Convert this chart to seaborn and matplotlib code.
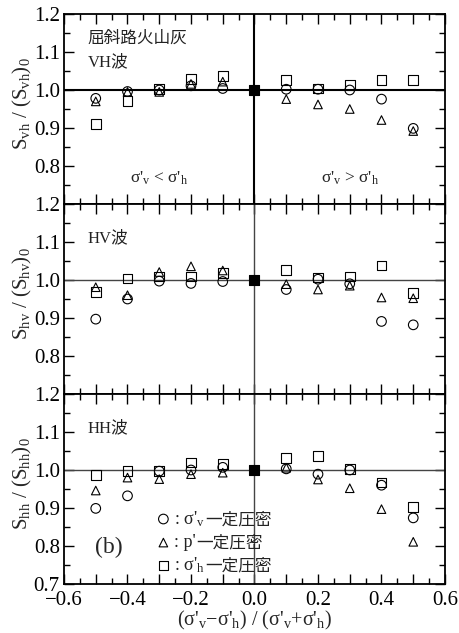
import numpy as np
import pandas as pd
import matplotlib
matplotlib.use("Agg")
import matplotlib.pyplot as plt
import seaborn as sns
from matplotlib.ticker import MultipleLocator, FuncFormatter
from matplotlib.offsetbox import TextArea, HPacker, AnnotationBbox

# stress ratio (σ'v−σ'h)/(σ'v+σ'h)
ratio = [-0.5, -0.4, -0.3, -0.2, -0.1, 0.0, 0.1, 0.2, 0.3, 0.4, 0.5]

# VH wave, normalised shear-wave velocity
vh_sv = [0.978, 0.996, 1.000, 1.011, 1.004, 1.0, 1.002, 1.002, 1.000, 0.976, 0.899]
vh_p  = [0.970, 0.995, 0.995, 1.016, 1.022, 1.0, 0.976, 0.962, 0.950, 0.921, 0.892]
vh_sh = [0.910, 0.971, 1.003, 1.029, 1.037, 1.0, 1.026, 1.004, 1.013, 1.026, 1.026]

# HV wave
hv_sv = [0.897, 0.950, 0.997, 0.991, 0.996, 1.0, 0.975, 1.002, 0.990, 0.891, 0.882]
hv_p  = [0.981, 0.960, 1.021, 1.036, 1.025, 1.0, 0.989, 0.975, 0.985, 0.954, 0.952]
hv_sh = [0.968, 1.004, 1.009, 1.009, 1.019, 1.0, 1.026, 1.007, 1.009, 1.038, 0.965]

# HH wave
hh_sv = [0.899, 0.932, 0.997, 1.000, 1.007, 1.0, 1.003, 0.989, 1.000, 0.960, 0.874]
hh_p  = [0.946, 0.980, 0.976, 0.989, 0.993, 1.0, 1.006, 0.975, 0.952, 0.897, 0.811]
hh_sh = [0.987, 0.998, 0.998, 1.020, 1.016, 1.0, 1.032, 1.037, 1.002, 0.967, 0.903]

panel_names = ["VH波", "HV波", "HH波"]
panel_ylabels = [r"S$_{vh}$ / (S$_{vh}$)$_0$",
                 r"S$_{hv}$ / (S$_{hv}$)$_0$",
                 r"S$_{hh}$ / (S$_{hh}$)$_0$"]
method_markers = ["o", "^", "s"]
marker_sizes = [48, 38, 48]
legend_syms = [r": σ'$_v$", r": p'", r": σ'$_h$"]
legend_tail = "一定圧密"

sns.set_theme(style="ticks")
plt.rcParams["font.family"] = ["Liberation Serif", "Noto Sans CJK JP"]
plt.rcParams["mathtext.fontset"] = "custom"
plt.rcParams["mathtext.rm"] = "Liberation Serif"
plt.rcParams["mathtext.default"] = "regular"
plt.rcParams["axes.linewidth"] = 1.3
plt.rcParams["axes.edgecolor"] = "black"

fig = plt.figure(figsize=(4.6, 6.33), dpi=100)
left, right = 64 / 460, 445 / 460
ph = 190 / 633
bottom0 = 1 - 584 / 633

panels = [
    [vh_sv, vh_p, vh_sh],
    [hv_sv, hv_p, hv_sh],
    [hh_sv, hh_p, hh_sh],
]


def xfmt(v, pos):
    if abs(v) < 1e-9:
        v = 0.0
    if int(round(v * 10)) % 2 == 0:
        return f"{v:.1f}".replace("-", "\u2212")
    return ""


def make_yfmt(hide_bottom):
    def yfmt(v, pos):
        if hide_bottom and abs(v - 0.7) < 1e-6:
            return ""
        return f"{v:.1f}"
    return yfmt


axes = []
for i, series in enumerate(panels):
    ax = fig.add_axes([left, bottom0 + (2 - i) * ph, right - left, ph])
    axes.append(ax)
    ref_lw, ref_col = (1.5, "black") if i == 0 else (1.0, "#444444")
    ax.axhline(1.0, color=ref_col, lw=ref_lw, zorder=1)
    ax.axvline(0.0, color=ref_col, lw=ref_lw, zorder=1)

    for vals, m, sz in zip(series, method_markers, marker_sizes):
        df = pd.DataFrame({"ratio": ratio, "value": vals})
        sns.scatterplot(data=df[df["ratio"] != 0.0], x="ratio", y="value",
                        marker=m, s=sz, facecolor="none", edgecolor="black",
                        linewidth=0.8, ax=ax, legend=False, zorder=3)
    # normalisation point (all methods coincide)
    df0 = pd.DataFrame({"ratio": ratio, "value": series[0]})
    sns.scatterplot(data=df0[df0["ratio"] == 0.0], x="ratio", y="value",
                    marker="s", s=55, color="black", edgecolor="black",
                    linewidth=0.8, ax=ax, legend=False, zorder=4)

    ax.set_xlim(-0.6, 0.6)
    ax.set_ylim(0.7, 1.2)
    ax.xaxis.set_major_locator(MultipleLocator(0.1))
    ax.xaxis.set_minor_locator(MultipleLocator(0.05))
    ax.yaxis.set_major_locator(MultipleLocator(0.1))
    ax.yaxis.set_minor_locator(MultipleLocator(0.05))
    ax.xaxis.set_major_formatter(FuncFormatter(xfmt))
    ax.yaxis.set_major_formatter(FuncFormatter(make_yfmt(i < 2)))
    ax.tick_params(which="both", direction="in", top=True, right=True,
                   width=1.0, labelsize=15, colors="black")
    ax.tick_params(axis="x", pad=5)
    ax.tick_params(axis="y", pad=3)
    ax.tick_params(which="major", length=7)
    ax.tick_params(which="minor", length=4)
    if i < 2:
        ax.tick_params(labelbottom=False)
        ax.set_xlabel("")
    ax.set_ylabel(panel_ylabels[i], fontsize=15)
    ax.yaxis.set_label_coords(-0.079, 0.53)
    for sp in ax.spines.values():
        sp.set_linewidth(1.3)

    ax.text(-0.525, 1.111 if i else 1.074, panel_names[i], fontsize=12,
            va="center", ha="left", color="#222222")

axes[0].text(-0.525, 1.134, "屈斜路火山灰", fontsize=12, va="center",
             ha="left", color="#222222")
axes[0].text(-0.3, 0.768, r"σ'$_v$ < σ'$_h$", fontsize=12.5, ha="center", va="center")
axes[0].text(0.3, 0.768, r"σ'$_v$ > σ'$_h$", fontsize=12.5, ha="center", va="center")

ax = axes[2]
ax.set_xlabel(r"(σ'$_v$−σ'$_h$) / (σ'$_v$+σ'$_h$)", fontsize=14.5, labelpad=-1)
ax.text(-0.46, 0.797, "(b)", fontsize=17, ha="center", va="center")

# legend for the three consolidation paths
leg_x = -0.287
leg_y = [0.871, 0.809, 0.749]
for m, sz, sym, y in zip(method_markers, marker_sizes, legend_syms, leg_y):
    sns.scatterplot(x=[leg_x], y=[y], marker=m, s=sz, facecolor="none",
                    edgecolor="black", linewidth=0.8, ax=ax, legend=False)
    box = HPacker(children=[
        TextArea(sym, textprops=dict(family="Liberation Serif", size=13,
                                     color="#222222")),
        TextArea(legend_tail, textprops=dict(family="Noto Sans CJK JP", size=12,
                                             color="#222222")),
    ], align="baseline", pad=0, sep=0)
    ab = AnnotationBbox(box, (leg_x + 0.035, y), xycoords="data",
                        box_alignment=(0, 0.5), frameon=False, pad=0)
    ax.add_artist(ab)

fig.savefig("out.png", dpi=100)
